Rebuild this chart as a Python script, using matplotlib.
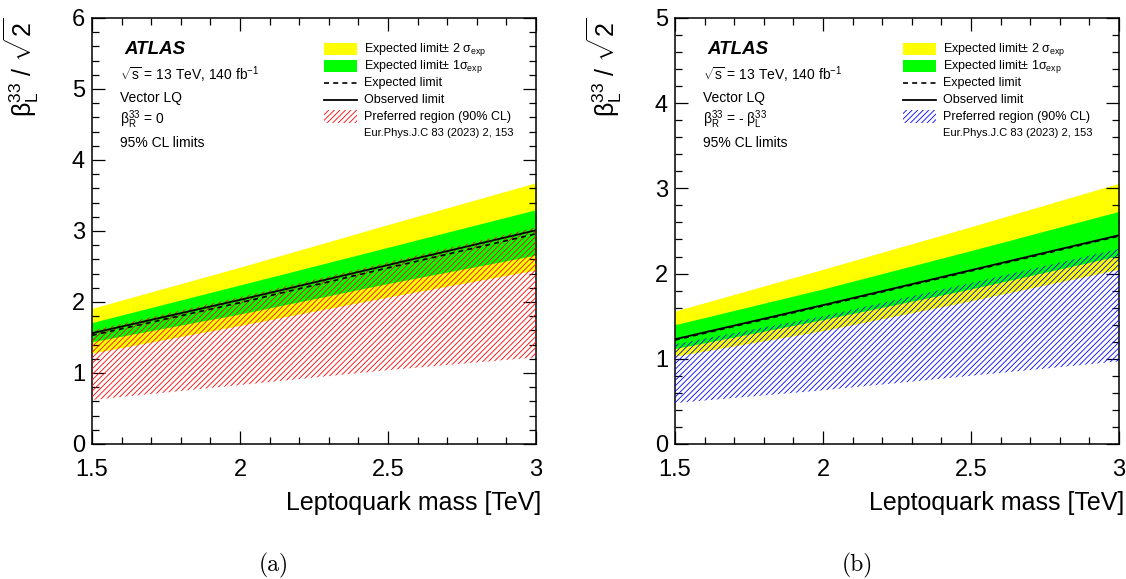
import matplotlib
matplotlib.use('Agg')
import matplotlib.pyplot as plt
from matplotlib.patches import Rectangle
from matplotlib.ticker import MultipleLocator

plt.rcParams['font.family'] = ['Liberation Sans', 'DejaVu Sans']
plt.rcParams['mathtext.fontset'] = 'custom'
plt.rcParams['mathtext.rm'] = 'Liberation Sans'
plt.rcParams['mathtext.it'] = 'Liberation Sans:italic'
plt.rcParams['mathtext.bf'] = 'Liberation Sans:bold'
plt.rcParams['hatch.linewidth'] = 0.6

# leptoquark mass [TeV]
mass = [1.5, 2.0, 2.5, 3.0]

# (a) beta_R = 0
exp2_hi_a = [1.91, 2.49, 3.09, 3.68]
exp1_hi_a = [1.71, 2.24, 2.77, 3.30]
obs_a = [1.56, 2.03, 2.52, 3.01]
exp_a = [1.53, 1.99, 2.48, 2.96]
exp1_lo_a = [1.44, 1.83, 2.26, 2.66]
exp2_lo_a = [1.28, 1.67, 2.07, 2.45]
pref_hi_a = [1.60, 2.07, 2.56, 3.05]
pref_lo_a = [0.62, 0.83, 1.04, 1.22]

# (b) beta_R = -beta_L
exp2_hi_b = [1.56, 2.05, 2.55, 3.06]
exp1_hi_b = [1.40, 1.82, 2.27, 2.73]
obs_b = [1.23, 1.63, 2.04, 2.45]
exp_b = [1.22, 1.62, 2.03, 2.44]
exp1_lo_b = [1.12, 1.46, 1.82, 2.21]
exp2_lo_b = [1.03, 1.33, 1.68, 2.05]
pref_hi_b = [1.17, 1.50, 1.89, 2.29]
pref_lo_b = [0.48, 0.63, 0.80, 0.97]

legend_labels = ['Expected limit± 2 σ$_{\\mathrm{exp}}$',
                 'Expected limit± 1σ$_{\\mathrm{exp}}$',
                 'Expected limit',
                 'Observed limit',
                 'Preferred region (90% CL)']

YELLOW = '#ffff00'
GREEN = '#00ff00'
HATCH = '//////'
DASH = (0, (3, 2.5))


def draw_panel(ax, e2hi, e1hi, obs, exp, e1lo, e2lo, phi, plo, hcolor, ymax, beta_txt, caption, lx):
    ax.fill_between(mass, e2lo, e2hi, color=YELLOW, lw=0, zorder=1)
    ax.fill_between(mass, e1lo, e1hi, color=GREEN, lw=0, zorder=2)
    ax.fill_between(mass, plo, phi, facecolor='none', edgecolor=hcolor, hatch=HATCH, lw=0, zorder=3)
    ax.plot(mass, exp, color='black', ls=DASH, lw=1.2, zorder=4)
    ax.plot(mass, obs, color='black', ls='-', lw=1.3, zorder=5)

    ax.set_xlim(1.5, 3.0)
    ax.set_ylim(0, ymax)
    ax.xaxis.set_major_locator(MultipleLocator(0.5))
    ax.xaxis.set_minor_locator(MultipleLocator(0.1))
    ax.yaxis.set_major_locator(MultipleLocator(1))
    ax.yaxis.set_minor_locator(MultipleLocator(0.2))
    ax.xaxis.set_major_formatter(matplotlib.ticker.FuncFormatter(lambda v, p: f'{v:g}'))
    ax.tick_params(which='both', direction='in', top=True, right=True, width=0.9, labelsize=17)
    ax.tick_params(which='major', length=9.5)
    ax.tick_params(which='minor', length=4.8)
    ax.tick_params(axis='x', pad=11)
    ax.tick_params(axis='y', pad=5)
    for s in ax.spines.values():
        s.set_linewidth(1.1)

    ax.set_xlabel('Leptoquark mass [TeV]', fontsize=18, loc='right')
    ax.xaxis.set_label_coords(1.011, -0.11)
    ax.set_ylabel('β$^{33}_{\\mathrm{L}}$ / $\\sqrt{2}$', fontsize=18, loc='top')
    ax.yaxis.set_label_coords(-0.115, 1.0)

    ax.text(0.072, 0.927, 'ATLAS', transform=ax.transAxes, fontsize=13.5, fontweight='bold',
            fontstyle='italic', va='center')
    ax.text(0.063, 0.866, '$\\sqrt{\\mathrm{s}}$ = 13 TeV, 140 fb$^{\\mathrm{-1}}$',
            transform=ax.transAxes, fontsize=10, va='center')
    ax.text(0.063, 0.812, 'Vector LQ', transform=ax.transAxes, fontsize=10, va='center')
    ax.text(0.063, 0.762, beta_txt, transform=ax.transAxes, fontsize=10, va='center')
    ax.text(0.063, 0.707, '95% CL limits', transform=ax.transAxes, fontsize=10, va='center')

    # legend, drawn row by row like the ROOT one
    rows = [0.927, 0.887, 0.847, 0.808, 0.768]
    bw, bh = 0.074, 0.030
    tx = lx + bw + 0.016
    ax.add_patch(Rectangle((lx, rows[0] - bh / 2), bw, bh, transform=ax.transAxes,
                           facecolor=YELLOW, lw=0, clip_on=False))
    ax.add_patch(Rectangle((lx, rows[1] - bh / 2), bw, bh, transform=ax.transAxes,
                           facecolor=GREEN, lw=0, clip_on=False))
    ax.plot([lx, lx + bw], [rows[2], rows[2]], transform=ax.transAxes, color='black', ls=DASH, lw=1.2)
    ax.plot([lx, lx + bw], [rows[3], rows[3]], transform=ax.transAxes, color='black', lw=1.3)
    ax.add_patch(Rectangle((lx, rows[4] - bh / 2), bw, bh, transform=ax.transAxes,
                           facecolor='none', edgecolor=hcolor, hatch=HATCH, lw=0, clip_on=False))
    for yy, lab in zip(rows, legend_labels):
        ax.text(tx, yy, lab, transform=ax.transAxes, fontsize=9, va='center')
    ax.text(tx, 0.730, 'Eur.Phys.J.C 83 (2023) 2, 153', transform=ax.transAxes,
            fontsize=8, va='center')

    ax.text(0.5 - 0.09, -0.285, caption, transform=ax.transAxes, fontsize=17,
            family='cmr10', ha='center', va='center')


fig = plt.figure(figsize=(11.26, 5.79), dpi=100)
ax1 = fig.add_axes([0.0817, 0.2332, 0.3943, 0.7358])
ax2 = fig.add_axes([0.5995, 0.2332, 0.3943, 0.7358])

draw_panel(ax1, exp2_hi_a, exp1_hi_a, obs_a, exp_a, exp1_lo_a, exp2_lo_a, pref_hi_a, pref_lo_a,
           '#ff0000', 6, 'β$^{33}_{\\mathrm{R}}$ = 0', '(a)', 0.5225)
draw_panel(ax2, exp2_hi_b, exp1_hi_b, obs_b, exp_b, exp1_lo_b, exp2_lo_b, pref_hi_b, pref_lo_b,
           '#0000ff', 5, 'β$^{33}_{\\mathrm{R}}$ = - β$^{33}_{\\mathrm{L}}$', '(b)', 0.514)

fig.savefig('out.png', dpi=100)
